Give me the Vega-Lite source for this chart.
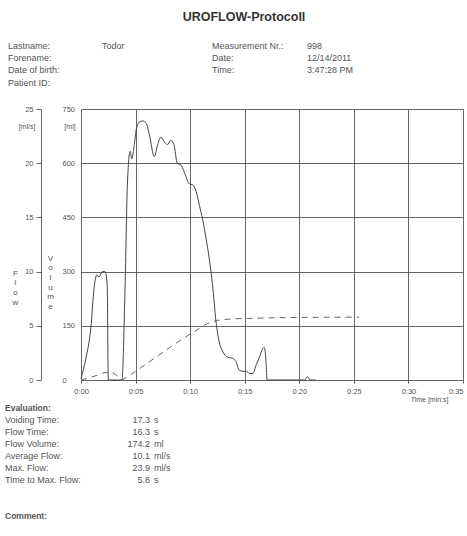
{
  "$schema": "https://vega.github.io/schema/vega-lite/v6.json",
  "width": 382,
  "height": 271,
  "autosize": {"type": "none"},
  "padding": {"left": 81, "top": 109, "right": 4, "bottom": 156},
  "background": "#ffffff",
  "config": {
    "view": {"stroke": null},
    "font": "Liberation Sans",
    "axis": {"labelFont": "Liberation Sans", "titleFont": "Liberation Sans", "labelColor": "#555", "titleColor": "#555", "titleFontWeight": "normal"},
    "text": {"font": "Liberation Sans"}
  },
  "datasets": {
    "flow": [
      {"t": 0, "flow": 0.1}, {"t": 0.45, "flow": 2.0}, {"t": 0.9, "flow": 4.8}, {"t": 1.2, "flow": 8.5},
      {"t": 1.45, "flow": 9.7}, {"t": 1.65, "flow": 9.5}, {"t": 1.95, "flow": 10.0}, {"t": 2.2, "flow": 10.0},
      {"t": 2.4, "flow": 8.8}, {"t": 2.5, "flow": 0}, {"t": 3.75, "flow": 0}, {"t": 4.05, "flow": 9.1},
      {"t": 4.25, "flow": 18.0}, {"t": 4.5, "flow": 21.1}, {"t": 4.65, "flow": 20.4}, {"t": 4.88, "flow": 21.7},
      {"t": 5.08, "flow": 23.2}, {"t": 5.37, "flow": 23.8}, {"t": 5.67, "flow": 23.9}, {"t": 5.97, "flow": 23.7},
      {"t": 6.27, "flow": 22.6}, {"t": 6.72, "flow": 20.6}, {"t": 7.02, "flow": 21.7}, {"t": 7.32, "flow": 22.4},
      {"t": 7.62, "flow": 22.0}, {"t": 7.92, "flow": 21.7}, {"t": 8.22, "flow": 22.1}, {"t": 8.52, "flow": 21.7},
      {"t": 8.82, "flow": 20.0}, {"t": 9.18, "flow": 19.8}, {"t": 9.57, "flow": 18.9}, {"t": 9.9, "flow": 18.1},
      {"t": 10.25, "flow": 18.0}, {"t": 10.55, "flow": 17.4}, {"t": 10.85, "flow": 16.1}, {"t": 11.15, "flow": 14.8},
      {"t": 11.45, "flow": 13.1}, {"t": 11.75, "flow": 11.2}, {"t": 12.05, "flow": 8.8}, {"t": 12.37, "flow": 5.4},
      {"t": 12.67, "flow": 3.5}, {"t": 13.0, "flow": 2.6}, {"t": 13.45, "flow": 2.1}, {"t": 13.9, "flow": 2.0},
      {"t": 14.2, "flow": 1.7}, {"t": 14.5, "flow": 0.9}, {"t": 14.82, "flow": 0.8}, {"t": 15.15, "flow": 0.8},
      {"t": 15.45, "flow": 0.6}, {"t": 15.75, "flow": 0.6}, {"t": 16.05, "flow": 1.4}, {"t": 16.35, "flow": 2.1},
      {"t": 16.65, "flow": 2.9}, {"t": 16.8, "flow": 3.0}, {"t": 16.95, "flow": 1.7}, {"t": 17.05, "flow": 0},
      {"t": 20.5, "flow": 0}, {"t": 20.75, "flow": 0.3}, {"t": 21.0, "flow": 0}, {"t": 21.5, "flow": 0}
    ],
    "volume": [
      {"t": 0, "vol": 0}, {"t": 1.0, "vol": 8}, {"t": 2.1, "vol": 20}, {"t": 2.7, "vol": 22},
      {"t": 3.15, "vol": 16}, {"t": 3.6, "vol": 4}, {"t": 3.8, "vol": 0}, {"t": 5.0, "vol": 24},
      {"t": 7.0, "vol": 66}, {"t": 9.0, "vol": 108}, {"t": 11.0, "vol": 146}, {"t": 11.5, "vol": 155},
      {"t": 12.0, "vol": 161}, {"t": 12.5, "vol": 165}, {"t": 13.0, "vol": 167}, {"t": 14.0, "vol": 169.5},
      {"t": 16.0, "vol": 171}, {"t": 18.0, "vol": 172.5}, {"t": 21.0, "vol": 173.5}, {"t": 25.5, "vol": 174}
    ],
    "text": [
      {"block": "title", "col": 8, "row": 0, "text": "UROFLOW-Protocoll"},
      {"block": "left", "col": 1, "row": 1, "text": "Lastname:"},
      {"block": "left", "col": 1, "row": 2, "text": "Forename:"},
      {"block": "left", "col": 1, "row": 3, "text": "Date of birth:"},
      {"block": "left", "col": 1, "row": 4, "text": "Patient ID:"},
      {"block": "left", "col": 4, "row": 1, "text": "Todor"},
      {"block": "left", "col": 7, "row": 1, "text": "Measurement Nr.:"},
      {"block": "left", "col": 7, "row": 2, "text": "Date:"},
      {"block": "left", "col": 7, "row": 3, "text": "Time:"},
      {"block": "left", "col": 9, "row": 1, "text": "998"},
      {"block": "left", "col": 9, "row": 2, "text": "12/14/2011"},
      {"block": "left", "col": 9, "row": 3, "text": "3:47:28 PM"},
      {"block": "unit", "col": 2, "row": 5, "text": "[ml/s]"},
      {"block": "unit", "col": 3, "row": 5, "text": "[ml]"},
      {"block": "heading", "col": 0, "row": 6, "text": "Evaluation:"},
      {"block": "heading", "col": 0, "row": 13, "text": "Comment:"},
      {"block": "left", "col": 0, "row": 7, "text": "Voiding Time:"},
      {"block": "left", "col": 0, "row": 8, "text": "Flow Time:"},
      {"block": "left", "col": 0, "row": 9, "text": "Flow Volume:"},
      {"block": "left", "col": 0, "row": 10, "text": "Average Flow:"},
      {"block": "left", "col": 0, "row": 11, "text": "Max. Flow:"},
      {"block": "left", "col": 0, "row": 12, "text": "Time to Max. Flow:"},
      {"block": "right", "col": 5, "row": 7, "text": "17.3"},
      {"block": "right", "col": 5, "row": 8, "text": "16.3"},
      {"block": "right", "col": 5, "row": 9, "text": "174.2"},
      {"block": "right", "col": 5, "row": 10, "text": "10.1"},
      {"block": "right", "col": 5, "row": 11, "text": "23.9"},
      {"block": "right", "col": 5, "row": 12, "text": "5.8"},
      {"block": "left", "col": 6, "row": 7, "text": "s"},
      {"block": "left", "col": 6, "row": 8, "text": "s"},
      {"block": "left", "col": 6, "row": 9, "text": "ml"},
      {"block": "left", "col": 6, "row": 10, "text": "ml/s"},
      {"block": "left", "col": 6, "row": 11, "text": "ml/s"},
      {"block": "left", "col": 6, "row": 12, "text": "s"}
    ]
  },
  "layer": [
    {
      "layer": [
        {
          "data": {"name": "volume"},
          "mark": {"type": "line", "color": "#666", "strokeWidth": 1, "strokeDash": [6, 5]},
          "encoding": {
            "x": {
              "field": "t", "type": "quantitative",
              "scale": {"domain": [0, 35], "nice": false, "zero": false},
              "axis": {
                "values": [0, 5, 10, 15, 20, 25, 30, 35],
                "labelExpr": "'0:' + (datum.value < 10 ? '0' : '') + datum.value",
                "labelAlign": {"condition": {"test": "datum.value >= 35", "value": "right"}, "value": "center"},
                "grid": true, "gridColor": "#555", "gridWidth": 0.9,
                "domain": false, "ticks": true, "tickSize": 3, "tickColor": "#555",
                "labelFontSize": 7.5, "labelPadding": 4, "labelFlush": false,
                "title": "Time [min:s]", "titleFontSize": 7, "titleX": 367, "titleY": 19,
                "titleAlign": "right", "titleBaseline": "middle", "titleAnchor": null
              }
            },
            "y": {
              "field": "vol", "type": "quantitative",
              "scale": {"domain": [0, 750], "nice": false, "zero": false},
              "axis": {
                "orient": "left", "offset": 0,
                "values": [0, 150, 300, 450, 600, 750],
                "grid": true, "gridColor": "#555", "gridWidth": 0.9,
                "domain": false, "ticks": false, "tickSize": 0,
                "labelAlign": "left", "labelPadding": 19, "labelFontSize": 7.5,
                "title": ["V", "o", "l", "u", "m", "e"], "titleAngle": 0,
                "titleX": -31, "titleY": 145, "titleAlign": "center", "titleBaseline": "top",
                "titleFontSize": 8, "titleLineHeight": 9.7
              }
            }
          }
        },
        {
          "data": {"name": "flow"},
          "mark": {"type": "line", "color": "#444", "strokeWidth": 1, "interpolate": "monotone"},
          "encoding": {
            "x": {"field": "t", "type": "quantitative", "scale": {"domain": [0, 35], "nice": false, "zero": false}},
            "y": {
              "field": "flow", "type": "quantitative",
              "scale": {"domain": [0, 25], "nice": false, "zero": false},
              "axis": {
                "orient": "left", "offset": 40,
                "values": [0, 5, 10, 15, 20, 25],
                "grid": false, "domain": true, "domainColor": "#666", "ticks": true, "tickSize": 5, "tickColor": "#666",
                "labelPadding": 3, "labelFontSize": 7.5,
                "title": ["F", "l", "o", "w"], "titleAngle": 0,
                "titleX": -26, "titleY": 160, "titleAlign": "center", "titleBaseline": "top",
                "titleFontSize": 8, "titleLineHeight": 9.7
              }
            }
          }
        }
      ],
      "resolve": {"scale": {"y": "independent"}}
    },
    {
      "data": {"name": "text"},
      "encoding": {
        "x": {"field": "col", "type": "quantitative", "axis": null,
              "scale": {"domain": [0, 1, 2, 3, 4, 5, 6, 7, 8, 9], "range": [-76, -73, -54, -11, 21, 69, 73, 131, 163, 226], "nice": false, "zero": false}},
        "y": {"field": "row", "type": "quantitative", "axis": null,
              "scale": {"domain": [0, 1, 2, 3, 4, 5, 6, 7, 8, 9, 10, 11, 12, 13], "range": [-92, -63, -51, -39, -26, 18, 299, 311, 323, 335, 347, 359, 371, 407], "nice": false, "zero": false}},
        "text": {"field": "text", "type": "nominal"}
      },
      "layer": [
        {"transform": [{"filter": "datum.block === 'title'"}], "mark": {"type": "text", "align": "center", "baseline": "middle", "fontSize": 12.5, "fontWeight": "bold", "color": "#333"}},
        {"transform": [{"filter": "datum.block === 'left'"}], "mark": {"type": "text", "align": "left", "baseline": "middle", "fontSize": 9, "color": "#555"}},
        {"transform": [{"filter": "datum.block === 'right'"}], "mark": {"type": "text", "align": "right", "baseline": "middle", "fontSize": 9, "color": "#555"}},
        {"transform": [{"filter": "datum.block === 'heading'"}], "mark": {"type": "text", "align": "left", "baseline": "middle", "fontSize": 8.5, "fontWeight": "bold", "color": "#555"}},
        {"transform": [{"filter": "datum.block === 'unit'"}], "mark": {"type": "text", "align": "center", "baseline": "middle", "fontSize": 7, "color": "#555"}}
      ]
    }
  ],
  "resolve": {"scale": {"x": "independent", "y": "independent"}}
}
